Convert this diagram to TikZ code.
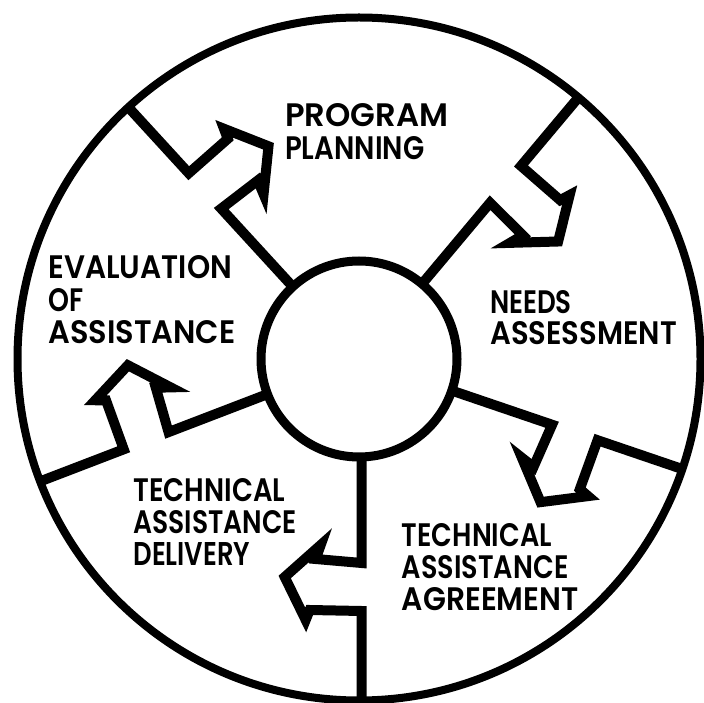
\documentclass[tikz,border=0pt]{standalone}
\usepackage{fontspec}
\usepackage{graphicx}
\IfFontExistsTF{Poppins SemiBold}
  {\newfontfamily\pop{Poppins SemiBold}\newcommand\popw{\relax}}
  {\newfontfamily\pop{Poppins}\newcommand\popw{\bfseries}}
\newcommand\fitt[2]{\resizebox{#1pt}{23pt}{#2}}
\tikzset{
  divider/.style={line width=10pt, line join=miter, miter limit=10},
  lbl/.style={inner sep=0pt, anchor=base west, font=\pop\popw},
}
\begin{document}
\begin{tikzpicture}[x=1pt,y=1pt]
\useasboundingbox (0,0) rectangle (704,702);
\coordinate (C) at (359,343);
\begin{scope}
  \clip (C) circle (341.5);
  \foreach \ang/\off in {132.5/0, 50/0, -18.8/0, -90/2.7, 201/0} {
    \begin{scope}[shift={(C)}, rotate=\ang, yshift=\off pt]
      \draw[divider] (96,0) -- (204,0) -- (200,-46) -- (186,-41) -- (218,-77)
        -- (261,-56) -- (251,-52) -- (252,0) -- (360,0);
    \end{scope}
  }
\end{scope}
\draw[line width=9pt, fill=white] (C) circle (98);
\draw[line width=8pt] (C) circle (341.5);

\node[lbl] (pp1) at (285,575.3) {\fitt{163}{PROGRAM}};
\node[lbl] (pp2) at (285,542) {\fitt{139}{PLANNING}};

\node[lbl] (ev1) at (48.3,423.7) {\fitt{183.4}{EVALUATION}};
\node[lbl] (ev2) at (48.3,390.3) {\fitt{35}{OF}};
\node[lbl] (ev3) at (48.3,358.7) {\fitt{187}{ASSISTANCE}};

\node[lbl] (na1) at (490,388.7) {\fitt{81.7}{NEEDS}};
\node[lbl] (na2) at (490,357) {\fitt{186.7}{ASSESSMENT}};

\node[lbl] (td1) at (133.3,200.3) {\fitt{151.7}{TECHNICAL}};
\node[lbl] (td2) at (133.3,168.7) {\fitt{163.4}{ASSISTANCE}};
\node[lbl] (td3) at (133.3,137) {\fitt{116.7}{DELIVERY}};

\node[lbl] (ta1) at (401.7,155.3) {\fitt{150}{TECHNICAL}};
\node[lbl] (ta2) at (401.7,123.7) {\fitt{166.6}{ASSISTANCE}};
\node[lbl] (ta3) at (401.7,92) {\fitt{176.6}{AGREEMENT}};
\end{tikzpicture}
\end{document}
